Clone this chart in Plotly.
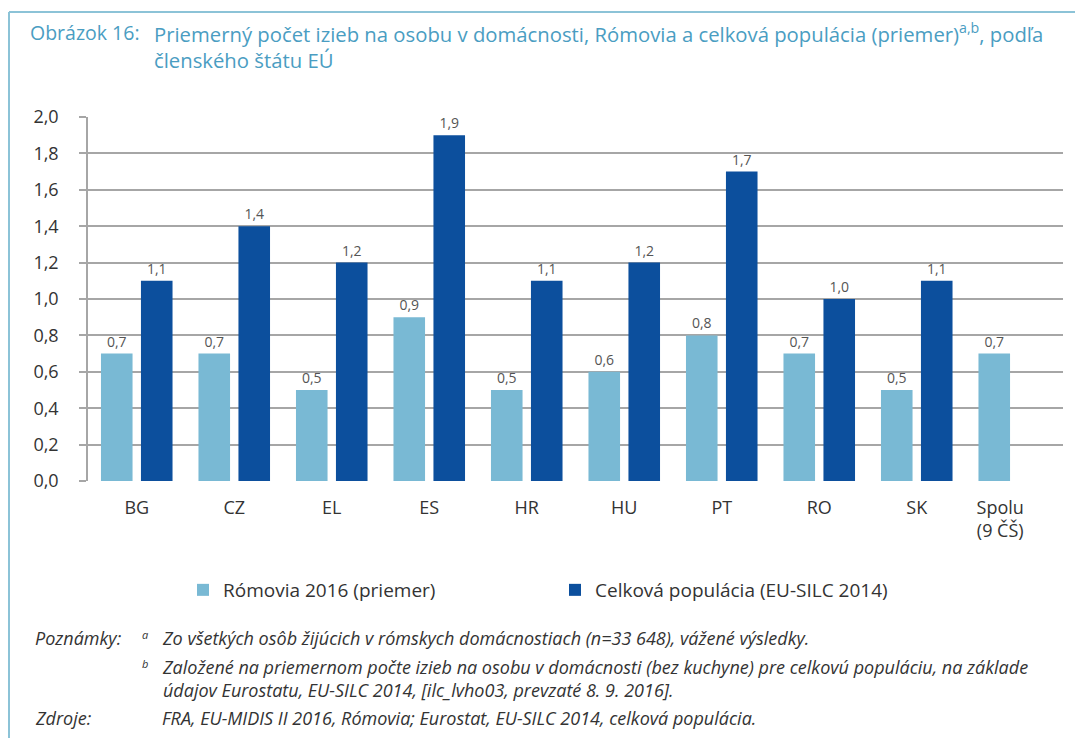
import plotly.graph_objects as go

categories = ["BG", "CZ", "EL", "ES", "HR", "HU", "PT", "RO", "SK",
              "Spolu\u00a0\u00a0\u00a0\u00a0\u00a0\u00a0<br>(9 ČŠ)\u00a0\u00a0\u00a0\u00a0\u00a0\u00a0"]
roma_2016 = [0.7, 0.7, 0.5, 0.9, 0.5, 0.6, 0.8, 0.7, 0.5, 0.7]
# general population has no "Spolu" value (first 9 categories only)
general_pop = [1.1, 1.4, 1.2, 1.9, 1.1, 1.2, 1.7, 1.0, 1.1]
series_names = ["Rómovia 2016 (priemer)", "Celková populácia (EU-SILC 2014)"]
y_ticks = [0.0, 0.2, 0.4, 0.6, 0.8, 1.0, 1.2, 1.4, 1.6, 1.8, 2.0]

W, H = 1075, 738
L, R, T, B = 88, 12, 117, 257
PW, PH = W - L - R, H - T - B


def px(x):
    return (x - L) / PW


def py(y):
    return (H - B - y) / PH


LIGHT = "#79b9d4"
DARK = "#0c4f9d"
TEAL = "#4a9dc2"
FONT = "Open Sans"

fig = go.Figure()
fig.add_trace(go.Bar(
    x=categories, y=roma_2016, name=series_names[0],
    marker=dict(color=LIGHT, line=dict(width=0)),
    texttemplate="%{y:.1f}", textposition="outside", cliponaxis=False,
    textfont=dict(size=14, color="#555555", family=FONT),
))
fig.add_trace(go.Bar(
    x=categories[:len(general_pop)], y=general_pop, name=series_names[1],
    marker=dict(color=DARK, line=dict(width=0)),
    texttemplate="%{y:.1f}", textposition="outside", cliponaxis=False,
    textfont=dict(size=14, color="#555555", family=FONT),
))

fig.update_layout(
    width=W, height=H, autosize=False,
    margin=dict(l=L, r=R, t=T, b=B, pad=0),
    paper_bgcolor="white", plot_bgcolor="white",
    separators=", ",
    font=dict(family=FONT, color="#333333"),
    barmode="group", bargap=0.18, bargroupgap=0.21,
    showlegend=True,
    legend=dict(
        orientation="h", x=px(183), xanchor="left", y=py(590), yanchor="middle",
        font=dict(size=19, color="#333333", family=FONT),
        entrywidth=327, bgcolor="rgba(0,0,0,0)", traceorder="normal",
    ),
    xaxis=dict(
        type="category", categoryorder="array", categoryarray=categories,
        showgrid=False, zeroline=False, showline=False,
        ticks="", tickfont=dict(size=18, color="#333333"),
        ticklabelstandoff=14,
    ),
    yaxis=dict(
        range=[0, 2.0], tickvals=y_ticks, tickformat=".1f",
        showgrid=True, gridcolor="#a6a6a6", gridwidth=1.5,
        zeroline=False, showline=True, linecolor="#a6a6a6", linewidth=1.5,
        ticks="outside", ticklen=7, tickcolor="#a6a6a6", tickwidth=1.5,
        tickfont=dict(size=18, color="#333333"), ticklabelstandoff=17,
    ),
)

# frame lines (top and left)
fig.add_shape(type="line", xref="paper", yref="paper",
              x0=px(9), y0=py(12), x1=px(W + 5), y1=py(12),
              line=dict(color="#8cc3d7", width=2))
fig.add_shape(type="line", xref="paper", yref="paper",
              x0=px(9), y0=py(12), x1=px(9), y1=py(H + 5),
              line=dict(color="#8cc3d7", width=2))


def note(x, y, text, size=18, color="#333333", italic=True, anchor="left"):
    fig.add_annotation(
        xref="paper", yref="paper", x=px(x), y=py(y), text=text,
        showarrow=False, xanchor=anchor, yanchor="middle", align="left",
        font=dict(size=size, color=color, family=FONT,
                  style="italic" if italic else "normal"),
    )


# title
note(28, 33, "Obrázok 16:", size=19.5, color=TEAL, italic=False)
note(152, 46, "Priemerný počet izieb na osobu v domácnosti, Rómovia a celková populácia (priemer)"
              "<sup>a,b</sup>, podľa<br>členského štátu EÚ", size=20.3, color=TEAL, italic=False)

# notes
note(33, 638, "Poznámky:")
note(140, 634, "a", size=11)
note(160, 638, "Zo všetkých osôb žijúcich v rómskych domácnostiach (n=33 648), vážené výsledky.")
note(140, 663, "b", size=11)
note(160, 678, "Založené na priemernom počte izieb na osobu v domácnosti (bez kuchyne) pre celkovú populáciu, na základe"
              "<br>údajov Eurostatu, EU-SILC 2014, [ilc_lvho03, prevzaté 8. 9. 2016].")
note(33, 718, "Zdroje:")
note(160, 718, "FRA, EU-MIDIS II 2016, Rómovia; Eurostat, EU-SILC 2014, celková populácia.")

fig.write_html(
    "out.html",
    config={"displayModeBar": False},
    post_script="document.body.style.margin='0';document.body.style.overflow='hidden';",
)
